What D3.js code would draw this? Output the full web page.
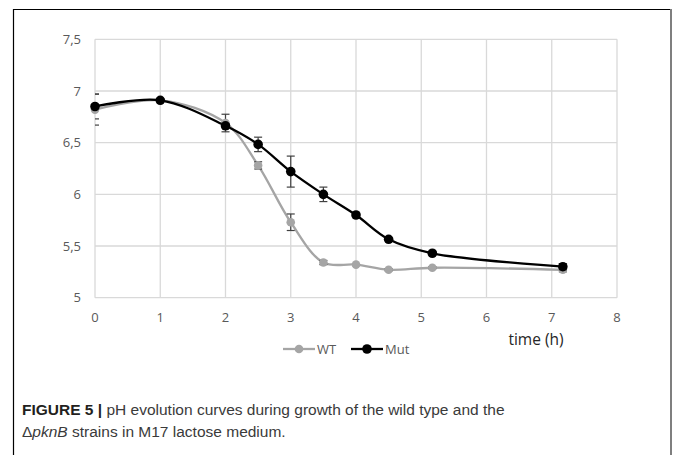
<!DOCTYPE html>
<html lang="en">
<head>
    <meta charset="UTF-8">
    <title>FIGURE 5 - pH evolution curves</title>
    <script src="https://d3js.org/d3.v7.min.js"></script>
    <style>
        body {
            margin: 0;
            background: #fff;
        }
        svg text {
            font-family: "Open Sans", sans-serif;
        }
        .grid line {
            stroke: #d9d9d9;
            stroke-width: 1.3px;
        }
        .tick-label {
            font-size: 13px;
            fill: #595959;
        }
        .caption {
            font-family: "Liberation Sans", Arial, sans-serif !important;
            font-size: 15.5px;
            fill: #3a3a3a;
        }
    </style>
</head>
<body>
    <div id="chart"></div>

    <script>
        // time points (h) and measured pH, with error bar half-widths
        const times = [0, 1, 2, 2.5, 3, 3.5, 4, 4.5, 5.17, 7.17];
        const wtPH = [6.82, 6.91, 6.69, 6.28, 5.73, 5.34, 5.32, 5.27, 5.29, 5.27];
        const wtErr = [0.15, 0.01, 0.085, 0.035, 0.08, 0.02, 0.01, 0.01, 0.01, 0.02];
        const mutPH = [6.85, 6.91, 6.663, 6.483, 6.22, 6.0, 5.8, 5.565, 5.43, 5.3];
        const mutErr = [0.12, 0.01, 0.02, 0.07, 0.15, 0.07, 0.01, 0.01, 0.01, 0.03];

        const xTicks = [0, 1, 2, 3, 4, 5, 6, 7, 8];
        const yTicks = [5, 5.5, 6, 6.5, 7, 7.5];
        const seriesNames = ["WT", "Mut"];
        const seriesColors = ["#a5a5a5", "#000000"];

        const width = 673;
        const height = 455;

        const svg = d3.select("#chart")
            .append("svg")
            .attr("width", width)
            .attr("height", height);

        // figure frame (open at the bottom)
        svg.append("path")
            .attr("d", "M13.5,455 V9.5 H670")
            .attr("fill", "none")
            .attr("stroke", "#000")
            .attr("stroke-width", 1.2);
        svg.append("line")
            .attr("x1", 671).attr("x2", 671)
            .attr("y1", 9).attr("y2", 455)
            .attr("stroke", "#7f7f7f")
            .attr("stroke-width", 2);

        const x = d3.scaleLinear().domain([0, 8]).range([95, 617]);
        const y = d3.scaleLinear().domain([5, 7.5]).range([297.7, 39.3]);

        const comma = d3.formatLocale({ decimal: ",", thousands: ".", grouping: [3], currency: ["", ""] }).format("~g");

        // gridlines
        const grid = svg.append("g").attr("class", "grid");
        grid.selectAll(".v")
            .data(xTicks)
            .join("line")
            .attr("x1", d => x(d)).attr("x2", d => x(d))
            .attr("y1", y(7.5)).attr("y2", y(5));
        grid.selectAll(".h")
            .data(yTicks)
            .join("line")
            .attr("x1", x(0)).attr("x2", x(8))
            .attr("y1", d => y(d)).attr("y2", d => y(d));

        // tick labels
        svg.selectAll(".ylab")
            .data(yTicks)
            .join("text")
            .attr("class", "tick-label")
            .attr("x", 81)
            .attr("y", d => y(d))
            .attr("dy", "0.35em")
            .attr("text-anchor", "end")
            .text(d => comma(d));

        svg.selectAll(".xlab")
            .data(xTicks)
            .join("text")
            .attr("class", "tick-label")
            .attr("x", d => x(d))
            .attr("y", 317)
            .attr("dy", "0.35em")
            .attr("text-anchor", "middle")
            .text(d => d);

        svg.append("text")
            .attr("x", 536)
            .attr("y", 340)
            .attr("dy", "0.35em")
            .attr("text-anchor", "middle")
            .attr("font-size", 15.5)
            .attr("fill", "#262626")
            .text("time (h)");

        const line = d3.line()
            .x(d => x(d.t))
            .y(d => y(d.v))
            .curve(d3.curveCatmullRom.alpha(0.5));

        const series = [
            { name: seriesNames[0], color: seriesColors[0], r: 4.3, values: times.map((t, i) => ({ t, v: wtPH[i], e: wtErr[i] })) },
            { name: seriesNames[1], color: seriesColors[1], r: 4.8, values: times.map((t, i) => ({ t, v: mutPH[i], e: mutErr[i] })) }
        ];

        series.forEach(s => {
            const g = svg.append("g");

            g.append("path")
                .datum(s.values)
                .attr("d", line)
                .attr("fill", "none")
                .attr("stroke", s.color)
                .attr("stroke-width", 2.3);

            // error bars, clipped at the y axis like the original
            const eb = g.selectAll(".err")
                .data(s.values)
                .join("g")
                .attr("stroke", "#404040")
                .attr("stroke-width", 1.2);
            eb.filter(d => d.t > 0).append("line")
                .attr("x1", d => x(d.t)).attr("x2", d => x(d.t))
                .attr("y1", d => y(d.v + d.e)).attr("y2", d => y(d.v - d.e));
            [1, -1].forEach(sign => {
                eb.append("line")
                    .attr("x1", d => Math.max(x(d.t) - 4, x(0)))
                    .attr("x2", d => x(d.t) + 4)
                    .attr("y1", d => y(d.v + sign * d.e))
                    .attr("y2", d => y(d.v + sign * d.e));
            });

            g.selectAll("circle")
                .data(s.values)
                .join("circle")
                .attr("cx", d => x(d.t))
                .attr("cy", d => y(d.v))
                .attr("r", s.r)
                .attr("fill", s.color);
        });

        // legend
        const legendX = [283, 351];
        series.forEach((s, i) => {
            const lg = svg.append("g").attr("transform", `translate(${legendX[i]},349)`);
            lg.append("line")
                .attr("x1", 0).attr("x2", 32)
                .attr("stroke", s.color)
                .attr("stroke-width", 2.3);
            lg.append("circle")
                .attr("cx", 16)
                .attr("r", s.r)
                .attr("fill", s.color);
            lg.append("text")
                .attr("class", "tick-label")
                .attr("x", 34)
                .attr("dy", "0.35em")
                .text(s.name);
        });

        // caption
        const cap1 = svg.append("text")
            .attr("class", "caption")
            .attr("x", 22)
            .attr("y", 415);
        cap1.append("tspan")
            .attr("font-weight", "bold")
            .attr("fill", "#231f20")
            .text("FIGURE 5 | ");
        cap1.append("tspan")
            .text("pH evolution curves during growth of the wild type and the");

        const cap2 = svg.append("text")
            .attr("class", "caption")
            .attr("x", 22)
            .attr("y", 437);
        cap2.append("tspan").text("\u0394");
        cap2.append("tspan").attr("font-style", "italic").text("pknB");
        cap2.append("tspan").text(" strains in M17 lactose medium.");
    </script>
</body>
</html>
